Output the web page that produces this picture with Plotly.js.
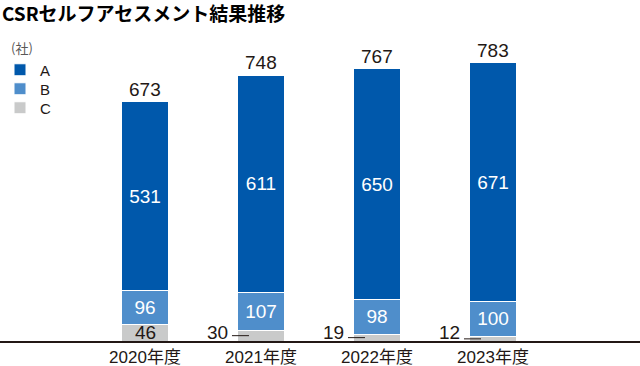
<!DOCTYPE html>
<html>
<head>
<meta charset="utf-8">
<script src="https://cdn.plot.ly/plotly-3.0.1.min.js"></script>
<style>html,body{margin:0;padding:0;background:#fff;}#chart{width:640px;height:366px;}</style>
</head>
<body>
<div id="chart"></div>
<script>
const categories = ['2020年度', '2021年度', '2022年度', '2023年度'];
const seriesA = [531, 611, 650, 671];
const seriesB = [96, 107, 98, 100];
const seriesC = [46, 30, 19, 12];
const totals = [673, 748, 767, 783];

const colorA = '#0058AB';
const colorB = '#4F8ECB';
const colorC = '#C9CACA';
const textColor = '#231815';
const latin = 'Liberation Sans, Arial, Noto Sans CJK JP, sans-serif';
const cjk = 'Noto Sans CJK JP, Liberation Sans, sans-serif';
const barWidth = 0.397;
const pxUnit = 1 / 116; // one pixel in category units
const xIdx = categories.map((_, i) => i);

function barTrace(name, vals, color, showText, legendId) {
  return {
    type: 'bar', name: name, x: xIdx, y: vals,
    width: barWidth,
    legend: legendId,
    marker: {color: color, line: {color: '#ffffff', width: 1}},
    text: showText ? vals.map(String) : undefined,
    textposition: showText ? 'inside' : 'none',
    insidetextanchor: 'middle',
    textfont: {family: latin, size: 19, color: '#ffffff'},
    hoverinfo: 'skip'
  };
}

const data = [
  barTrace('C', seriesC, colorC, false, 'legend3'),
  barTrace('B', seriesB, colorB, true, 'legend2'),
  barTrace('A', seriesA, colorA, true, 'legend')
];

const annotations = [];
const shapes = [];
totals.forEach((t, i) => {
  annotations.push({
    x: i, y: t, xref: 'x', yref: 'y', text: String(t), showarrow: false,
    yanchor: 'bottom', font: {family: latin, size: 19, color: textColor}
  });
});
seriesC.forEach((c, i) => {
  if (c >= 40) {
    annotations.push({
      x: i, y: c / 2, xref: 'x', yref: 'y', text: String(c), showarrow: false,
      font: {family: latin, size: 19, color: textColor}
    });
  } else {
    const left = i - barWidth / 2;
    annotations.push({
      x: left - 8 * pxUnit, y: 0, xref: 'x', yref: 'y', text: String(c),
      showarrow: false, xanchor: 'right', yanchor: 'middle', yshift: 9,
      font: {family: latin, size: 19, color: textColor}
    });
    shapes.push({
      type: 'line', xref: 'x', yref: 'y',
      x0: left - 6 * pxUnit, x1: left + 11 * pxUnit, y0: c / 2, y1: c / 2,
      line: {color: textColor, width: 1}, layer: 'above'
    });
  }
});

annotations.push({
  xref: 'paper', yref: 'paper', x: 0.014, y: 0.8607, xanchor: 'left', yanchor: 'middle',
  text: '(社)', showarrow: false, font: {family: cjk, size: 13, color: '#595757'}
});

function legendAt(py) {
  return {
    x: 0, xanchor: 'left', y: (341 - py) / 341, yanchor: 'middle',
    bgcolor: 'rgba(0,0,0,0)',
    font: {family: latin, size: 15, color: textColor}
  };
}

const layout = {
  width: 640, height: 366,
  margin: {l: 0, r: 0, t: 0, b: 25},
  paper_bgcolor: '#ffffff', plot_bgcolor: '#ffffff',
  barmode: 'stack',
  showlegend: true,
  title: {
    text: '<b>CSRセルフアセスメント結果推移</b>',
    font: {family: cjk, size: 19, color: '#000000'},
    x: 0.003, xanchor: 'left', xref: 'paper',
    y: 0.962, yanchor: 'middle', yref: 'container'
  },
  legend: legendAt(70),
  legend2: legendAt(89),
  legend3: legendAt(108),
  xaxis: {
    type: 'linear',
    range: [-1.25, 4.267],
    tickmode: 'array', tickvals: xIdx, ticktext: categories,
    tickfont: {family: latin, size: 17, color: textColor},
    showline: true, linecolor: textColor, linewidth: 1.5,
    showgrid: false, zeroline: false, ticks: '', automargin: false
  },
  yaxis: {
    range: [0, 960], visible: false, showgrid: false, zeroline: false
  },
  annotations: annotations,
  shapes: shapes
};

Plotly.newPlot('chart', data, layout, {staticPlot: true, displayModeBar: false});
</script>
</body>
</html>
